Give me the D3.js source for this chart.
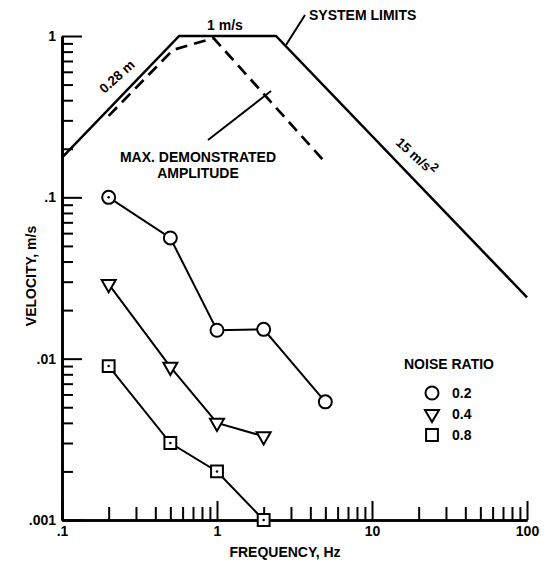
<!DOCTYPE html>
<html>
<head>
<meta charset="utf-8">
<script src="https://cdn.jsdelivr.net/npm/d3@7"></script>
<style>
  body { margin: 0; background: #fff; }
  svg text { font-family: "Liberation Sans", Arial, sans-serif; font-weight: bold; fill: #000; }
</style>
</head>
<body>
<div class="chart"></div>
<script>
// frequency (Hz) for the test points
const testFreq = [0.2, 0.5, 1, 2, 5];
// velocity (m/s) per noise ratio
const noise02 = [0.1, 0.056, 0.015, 0.0152, 0.0054];
const noise04 = [0.029, 0.0089, 0.004, 0.0033];
const noise08 = [0.009, 0.003, 0.002, 0.001];

// system limits: 0.28 m displacement, 1 m/s velocity, 15 m/s2 acceleration
const limitFreq = [0.1, 0.57, 2.4, 100];
const limitVel = [0.176, 1, 1, 0.024];

// max demonstrated amplitude (dashed)
const demoFreq = [0.2, 0.52, 0.95, 4.9];
const demoVel = [0.32, 0.82, 0.97, 0.168];

const xMajor = [0.1, 1, 10, 100];
const xLabels = [".1", "1", "10", "100"];
const yMajor = [1, 0.1, 0.01, 0.001];
const yLabels = ["1", ".1", ".01", ".001"];

const legendLabels = ["0.2", "0.4", "0.8"];

init();

function init() {
    const width = 554, height = 565;
    const svg = d3.select(".chart").append("svg")
        .attr("width", width)
        .attr("height", height);

    const x = d3.scaleLog().domain([0.1, 100]).range([62, 527]);
    const y = d3.scaleLog().domain([0.001, 1]).range([520, 36]);

    const minorOf = (majors) => {
        const out = [];
        majors.forEach(m => d3.range(2, 10).forEach(k => out.push(m * k)));
        return out;
    };
    const xMinor = minorOf([0.1, 1, 10]);
    const yMinor = minorOf([0.001, 0.01, 0.1]);

    drawAxes(svg, x, y, xMinor, yMinor);
    drawLimits(svg, x, y);
    drawSeries(svg, x, y);
    drawLabels(svg, x, y);
    drawLegend(svg);
}

function drawAxes(svg, x, y, xMinor, yMinor) {
    // minor ticks (inward, no labels)
    svg.append("g")
        .attr("transform", "translate(0,520)")
        .call(d3.axisBottom(x).tickValues(xMinor).tickSize(-13).tickSizeOuter(0).tickFormat(""))
        .call(styleAxis);

    svg.append("g")
        .attr("transform", "translate(62,0)")
        .call(d3.axisLeft(y).tickValues(yMinor).tickSize(-11).tickSizeOuter(0).tickFormat(""))
        .call(styleAxis);

    // major ticks with labels
    svg.append("g")
        .attr("transform", "translate(0,520)")
        .call(d3.axisBottom(x).tickValues(xMajor).tickSize(-19).tickSizeOuter(0)
            .tickPadding(5).tickFormat((d, i) => xLabels[i]))
        .call(styleAxis)
        .selectAll("text").attr("font-size", 14).attr("dy", "0.8em");

    svg.append("g")
        .attr("transform", "translate(62,0)")
        .call(d3.axisLeft(y).tickValues(yMajor).tickSize(-20).tickSizeOuter(0)
            .tickPadding(6).tickFormat((d, i) => yLabels[i]))
        .call(styleAxis)
        .selectAll("text").attr("font-size", 14);

    svg.append("text")
        .attr("x", 285).attr("y", 557)
        .attr("text-anchor", "middle")
        .attr("font-size", 14)
        .text("FREQUENCY, Hz");

    svg.append("text")
        .attr("transform", "translate(36,276) rotate(-90)")
        .attr("text-anchor", "middle")
        .attr("font-size", 14)
        .text("VELOCITY, m/s");
}

function styleAxis(g) {
    g.select(".domain").attr("stroke", "#000").attr("stroke-width", 2.6);
    g.selectAll(".tick line").attr("stroke", "#000").attr("stroke-width", 2);
    g.selectAll("text").attr("fill", "#000").attr("font-family", null);
}

function drawLimits(svg, x, y) {
    const line = d3.line().x(d => x(d[0])).y(d => y(d[1]));

    svg.append("path")
        .datum(d3.zip(limitFreq, limitVel))
        .attr("d", line)
        .attr("fill", "none")
        .attr("stroke", "#000")
        .attr("stroke-width", 2.5);

    svg.append("path")
        .datum(d3.zip(demoFreq, demoVel))
        .attr("d", line)
        .attr("fill", "none")
        .attr("stroke", "#000")
        .attr("stroke-width", 2.7)
        .attr("stroke-dasharray", "12,7");
}

function drawSeries(svg, x, y) {
    const line = d3.line().x(d => x(d[0])).y(d => y(d[1]));
    const series = [
        { vals: noise02, shape: "circle" },
        { vals: noise04, shape: "triangle" },
        { vals: noise08, shape: "square" }
    ];

    series.forEach(s => {
        const pts = d3.zip(testFreq.slice(0, s.vals.length), s.vals);
        svg.append("path")
            .datum(pts)
            .attr("d", line)
            .attr("fill", "none")
            .attr("stroke", "#000")
            .attr("stroke-width", 2);

        svg.append("g").selectAll("g")
            .data(pts)
            .join("g")
            .attr("transform", d => `translate(${x(d[0])},${y(d[1])})`)
            .each(function (d, i) {
                drawMarker(d3.select(this), s.shape);
                // little centre dots seen in the scan
                if (s.shape === "square" || (s.shape === "circle" && i === 0)) {
                    d3.select(this).append("circle").attr("r", 1.3).attr("fill", "#000");
                }
            });
    });
}

function drawMarker(g, shape) {
    if (shape === "circle") {
        g.append("circle").attr("r", 6.5)
            .attr("fill", "#fff").attr("stroke", "#000").attr("stroke-width", 2);
    } else if (shape === "triangle") {
        g.append("path")
            .attr("d", d3.symbol(d3.symbolTriangle, 85)())
            .attr("transform", "rotate(180)")
            .attr("fill", "#fff").attr("stroke", "#000").attr("stroke-width", 2);
    } else {
        g.append("path")
            .attr("d", d3.symbol(d3.symbolSquare, 140)())
            .attr("fill", "#fff").attr("stroke", "#000").attr("stroke-width", 2);
    }
}

function drawLabels(svg, x, y) {
    svg.append("text")
        .attr("x", 225).attr("y", 30)
        .attr("text-anchor", "middle")
        .attr("font-size", 14)
        .text("1 m/s");

    svg.append("text")
        .attr("x", 309).attr("y", 20)
        .attr("font-size", 14)
        .text("SYSTEM LIMITS");

    svg.append("line")
        .attr("x1", 305).attr("y1", 15)
        .attr("x2", 286).attr("y2", 45)
        .attr("stroke", "#000").attr("stroke-width", 2);

    svg.append("text")
        .attr("transform", "translate(120,80) rotate(-42)")
        .attr("text-anchor", "middle")
        .attr("font-size", 13.5)
        .text("0.28 m");

    svg.append("text")
        .attr("transform", "translate(413,160) rotate(42)")
        .attr("text-anchor", "middle")
        .attr("font-size", 13.5)
        .text("15 m/s")
        .append("tspan")
        .attr("dy", -5)
        .attr("font-size", 12)
        .text("2");

    svg.append("line")
        .attr("x1", 208).attr("y1", 140)
        .attr("x2", 271).attr("y2", 91)
        .attr("stroke", "#000").attr("stroke-width", 2);

    svg.append("text")
        .attr("x", 198).attr("y", 162)
        .attr("text-anchor", "middle")
        .attr("font-size", 14)
        .text("MAX. DEMONSTRATED");

    svg.append("text")
        .attr("x", 198).attr("y", 178)
        .attr("text-anchor", "middle")
        .attr("font-size", 14)
        .text("AMPLITUDE");
}

function drawLegend(svg) {
    svg.append("text")
        .attr("x", 404).attr("y", 369)
        .attr("font-size", 14)
        .text("NOISE RATIO");

    const shapes = ["circle", "triangle", "square"];
    const rows = svg.append("g").selectAll("g")
        .data(shapes)
        .join("g")
        .attr("transform", (d, i) => `translate(432,${393 + i * 21})`);

    rows.each(function (d) { drawMarker(d3.select(this), d); });

    rows.append("text")
        .attr("x", 20).attr("y", 5)
        .attr("font-size", 14)
        .text((d, i) => legendLabels[i]);
}
</script>
</body>
</html>
